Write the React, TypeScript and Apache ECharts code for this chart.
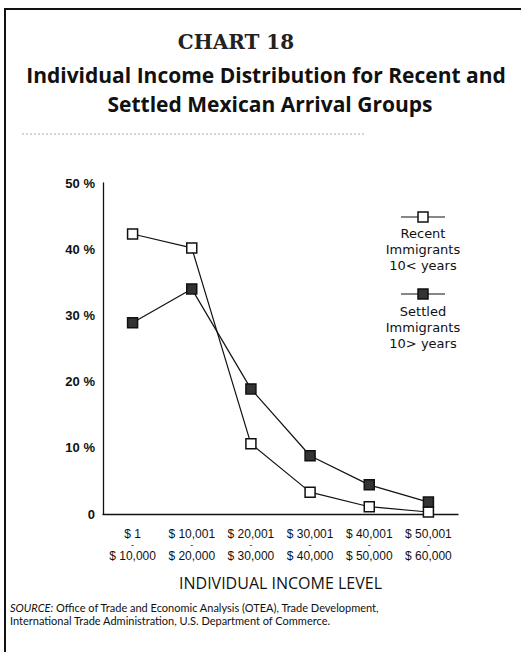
import React, { useEffect, useRef } from "react";
import * as echarts from "echarts";

const categoriesTop = ["$ 1", "$ 10,001", "$ 20,001", "$ 30,001", "$ 40,001", "$ 50,001"];
const categoriesBottom = ["$ 10,000", "$ 20,000", "$ 30,000", "$ 40,000", "$ 50,000", "$ 60,000"];
const recentValues = [42.3, 40.2, 10.6, 3.3, 1.1, 0.3];
const settledValues = [28.9, 34.0, 18.9, 8.8, 4.4, 1.8];
const yTicks = [0, 10, 20, 30, 40, 50];
const recentLegend = ["Recent", "Immigrants", "10< years"];
const settledLegend = ["Settled", "Immigrants", "10> years"];

const FONT = "'Open Sans', Lato, sans-serif";
const LEGFONT = "'DejaVu Sans', sans-serif";
const NUMFONT = "'Liberation Sans', Arial, sans-serif";

function legendTexts(lines: string[], y0: number) {
  return lines.map((t, i) => ({
    type: "text",
    x: 423,
    y: y0 + i * 16,
    style: {
      text: t,
      fontFamily: LEGFONT,
      fontSize: 13,
      lineHeight: 15,
      fill: "#111",
      align: "center",
      verticalAlign: "middle",
    },
  }));
}

function titleText(text: string, x: number, y: number) {
  return {
    type: "text",
    x,
    y,
    style: {
      text,
      fontFamily: FONT,
      fontWeight: "bold",
      fontSize: 21,
      lineHeight: 28,
      fill: "#111",
      align: "center",
      verticalAlign: "middle",
    },
  };
}

export default function App() {
  const ref = useRef<HTMLDivElement>(null);
  useEffect(() => {
    if (!ref.current) return;
    const chart = echarts.init(ref.current, null, { renderer: "svg" });
    const categories = categoriesTop.map((t, i) => `${t}|${categoriesBottom[i]}`);
    chart.setOption({
      animation: false,
      backgroundColor: "#ffffff",
      grid: { left: 103, right: 63, top: 183, bottom: 138 },
      xAxis: {
        type: "category",
        data: categories,
        boundaryGap: true,
        axisLine: { lineStyle: { color: "#111", width: 1.3 } },
        axisTick: { show: false },
        axisLabel: {
          margin: 14,
          interval: 0,
          formatter: (v: string) => {
            const [a, b] = v.split("|");
            return `{a|${a}}\n{d|-}\n{a|${b}}`;
          },
          rich: {
            a: { fontFamily: NUMFONT, fontSize: 12, color: "#111", lineHeight: 11 },
            d: { fontFamily: NUMFONT, fontSize: 9, color: "#111", lineHeight: 11 },
          },
        },
        name: "INDIVIDUAL INCOME LEVEL",
        nameLocation: "middle",
        nameGap: 61,
        nameTextStyle: { fontFamily: FONT, fontSize: 16, color: "#111" },
      },
      yAxis: {
        type: "value",
        min: yTicks[0],
        max: yTicks[yTicks.length - 1],
        interval: 10,
        axisLine: { show: true, lineStyle: { color: "#111", width: 1.3 } },
        axisTick: { show: false },
        splitLine: { show: false },
        axisLabel: {
          margin: 8,
          fontFamily: NUMFONT,
          fontWeight: "bold",
          fontSize: 13,
          color: "#111",
          formatter: (v: number) => (v === 0 ? "0" : `${v} %`),
        },
      },
      series: [
        {
          name: "Recent Immigrants 10< years",
          type: "line",
          data: recentValues,
          symbol: "rect",
          symbolSize: 10,
          lineStyle: { color: "#111", width: 1.2 },
          itemStyle: { color: "#ffffff", borderColor: "#111", borderWidth: 1.5 },
          z: 2,
        },
        {
          name: "Settled Immigrants 10> years",
          type: "line",
          data: settledValues,
          symbol: "rect",
          symbolSize: 10,
          lineStyle: { color: "#111", width: 1.2 },
          itemStyle: { color: "#333", borderColor: "#111", borderWidth: 1.5 },
          z: 3,
        },
      ],
      graphic: [
        { type: "line", shape: { x1: 5, y1: 8, x2: 5, y2: 652 }, style: { stroke: "#111", lineWidth: 2 } },
        { type: "line", shape: { x1: 4, y1: 9, x2: 521, y2: 9 }, style: { stroke: "#111", lineWidth: 2 } },
        {
          type: "text",
          x: 236,
          y: 42,
          style: {
            text: "CHART 18",
            fontFamily: "'DejaVu Serif', serif",
            fontWeight: "bold",
            fontSize: 20,
            fill: "#222",
            align: "center",
            verticalAlign: "middle",
          },
        },
        titleText("Individual Income Distribution for Recent and", 266, 75),
        titleText("Settled Mexican Arrival Groups", 270, 104),
        {
          type: "line",
          shape: { x1: 22, y1: 134, x2: 366, y2: 134 },
          style: { stroke: "#aaa", lineWidth: 1, lineDash: [2, 2] },
        },
        // legend: recent
        { type: "line", shape: { x1: 401, y1: 217, x2: 445, y2: 217 }, style: { stroke: "#111", lineWidth: 1.2 } },
        { type: "rect", shape: { x: 418, y: 212, width: 10, height: 10 }, style: { fill: "#fff", stroke: "#111", lineWidth: 1.5 } },
        ...legendTexts(recentLegend, 233),
        // legend: settled
        { type: "line", shape: { x1: 401, y1: 294, x2: 445, y2: 294 }, style: { stroke: "#111", lineWidth: 1.2 } },
        { type: "rect", shape: { x: 418, y: 289, width: 10, height: 10 }, style: { fill: "#333", stroke: "#111", lineWidth: 1.5 } },
        ...legendTexts(settledLegend, 311),
        {
          type: "text",
          x: 10,
          y: 614,
          style: {
            text: "{i|SOURCE:} Office of Trade and Economic Analysis (OTEA), Trade Development,\nInternational Trade Administration, U.S. Department of Commerce.",
            fontFamily: "Lato, sans-serif",
            fontSize: 11,
            lineHeight: 13,
            fill: "#111",
            align: "left",
            verticalAlign: "middle",
            rich: {
              i: { fontFamily: "Lato, sans-serif", fontSize: 11, fontStyle: "italic", fill: "#111" },
            },
          },
        },
      ],
    });
    return () => chart.dispose();
  }, []);
  return (
    <div
      ref={ref}
      style={{ position: "fixed", left: 0, top: 0, width: 521, height: 652, background: "#fff" }}
    />
  );
}
